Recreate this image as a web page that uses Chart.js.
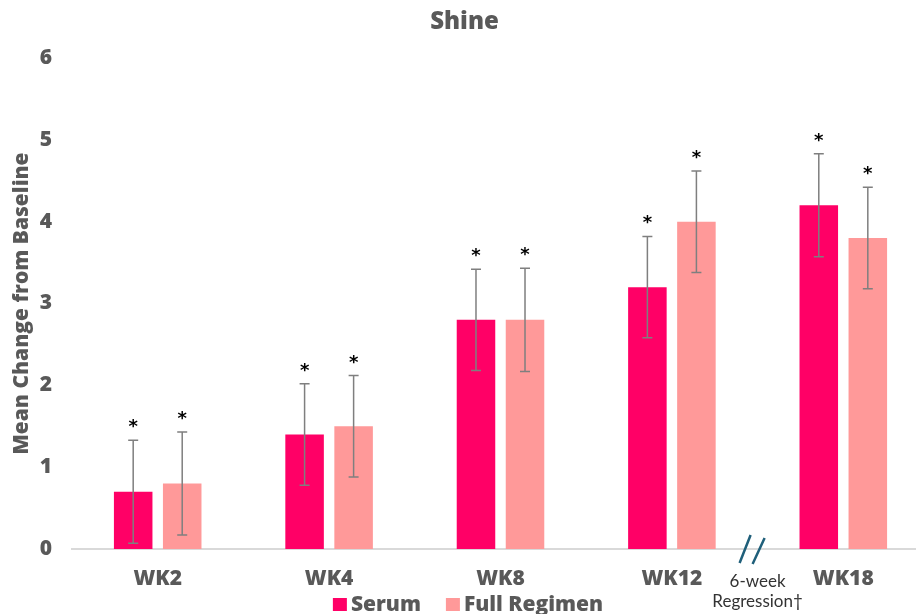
<!DOCTYPE html>
<html>
<head>
<meta charset="utf-8">
<script src="https://cdn.jsdelivr.net/npm/chart.js@4/dist/chart.umd.min.js"></script>
<style>
  html, body { margin: 0; padding: 0; background: #ffffff; overflow: hidden; width: 916px; height: 614px; }
  #c { display: block; }
</style>
</head>
<body>
<canvas id="c" width="930" height="614"></canvas>
<script>
// ---- data ----
const categories = ['WK2', 'WK4', 'WK8', 'WK12', 'WK18'];
const serumValues = [0.7, 1.4, 2.8, 3.2, 4.2];
const fullRegimenValues = [0.8, 1.5, 2.8, 4.0, 3.8];
const serumErrors = [0.63, 0.62, 0.62, 0.62, 0.63];
const fullRegimenErrors = [0.63, 0.62, 0.63, 0.62, 0.62];
const significance = ['*', '*', '*', '*', '*'];
const yTicks = [0, 1, 2, 3, 4, 5, 6];
const chartTitle = 'Shine';
const yAxisTitle = 'Mean Change from Baseline';
const gapNote = ['6-week', 'Regression\u2020'];

const TEXT = '#595959';
const FONT = "'Open Sans', 'Lato', sans-serif";
const BOLD = '800';

const errorBarPlugin = {
  id: 'errorBars',
  afterDatasetsDraw(chart) {
    const ctx = chart.ctx;
    const y = chart.scales.y;
    const errs = [serumErrors, fullRegimenErrors];
    chart.data.datasets.forEach((ds, i) => {
      const meta = chart.getDatasetMeta(i);
      meta.data.forEach((bar, j) => {
        const v = ds.data[j];
        const e = errs[i][j];
        const yt = y.getPixelForValue(v + e);
        const yb = y.getPixelForValue(v - e);
        const x = bar.x;
        ctx.save();
        ctx.strokeStyle = '#7f7f7f';
        ctx.lineWidth = 1.5;
        ctx.beginPath();
        ctx.moveTo(x, yt); ctx.lineTo(x, yb);
        ctx.moveTo(x - 5, yt); ctx.lineTo(x + 5, yt);
        ctx.moveTo(x - 5, yb); ctx.lineTo(x + 5, yb);
        ctx.stroke();
        ctx.fillStyle = '#000000';
        ctx.font = "bold 18px 'DejaVu Sans', sans-serif";
        ctx.textAlign = 'center';
        ctx.textBaseline = 'alphabetic';
        ctx.fillText(significance[j], x, yt - 8);
        ctx.restore();
      });
    });
  },
  afterDraw(chart) {
    const ctx = chart.ctx;
    const xs = chart.scales.x;
    const bottom = chart.chartArea.bottom;
    const mid = (xs.getPixelForTick(3) + xs.getPixelForTick(4)) / 2;
    ctx.save();
    // break mark
    ctx.strokeStyle = '#1f5f7a';
    ctx.lineWidth = 2.5;
    ctx.beginPath();
    const sx = mid - 6;
    ctx.moveTo(sx - 12, bottom + 14); ctx.lineTo(sx - 1, bottom - 14);
    ctx.moveTo(sx + 1, bottom + 15); ctx.lineTo(sx + 13, bottom - 11);
    ctx.stroke();
    // gap note
    ctx.fillStyle = '#333333';
    ctx.font = "17px 'Lato', sans-serif";
    ctx.textAlign = 'center';
    ctx.textBaseline = 'middle';
    ctx.fillText(gapNote[0], mid, bottom + 33);
    ctx.fillText(gapNote[1], mid, bottom + 53);
    // legend
    ctx.font = BOLD + " 21px " + FONT;
    const box = 14, boxGap = 4, itemGap = 25;
    const items = chart.data.datasets.map(d => ({ label: d.label, color: d.backgroundColor, w: ctx.measureText(d.label).width }));
    let total = 0;
    items.forEach((it, k) => { total += box + boxGap + it.w + (k ? itemGap : 0); });
    let lx = chart.width / 2 - total / 2 + 3;
    const ly = 604.5;
    ctx.textAlign = 'left';
    ctx.textBaseline = 'middle';
    items.forEach(it => {
      ctx.fillStyle = it.color;
      ctx.fillRect(lx, ly - 6.5, box, box - 1);
      ctx.fillStyle = TEXT;
      ctx.fillText(it.label, lx + box + boxGap, ly + 1);
      lx += box + boxGap + it.w + itemGap;
    });
    ctx.restore();
  }
};

new Chart(document.getElementById('c'), {
  type: 'bar',
  data: {
    labels: categories,
    datasets: [
      { label: 'Serum', data: serumValues, backgroundColor: '#ff0066',
        categoryPercentage: 0.572, barPercentage: 0.786 },
      { label: 'Full Regimen', data: fullRegimenValues, backgroundColor: '#ff9999',
        categoryPercentage: 0.572, barPercentage: 0.786 }
    ]
  },
  options: {
    responsive: false,
    animation: false,
    devicePixelRatio: 1,
    layout: { padding: { top: 8, right: 1, left: 0, bottom: 22.8 } },
    plugins: {
      title: {
        display: true, text: chartTitle, color: TEXT,
        font: { family: FONT, size: 24, weight: BOLD },
        padding: { top: 0, bottom: 21.2 }
      },
      legend: { display: false },
      tooltip: { enabled: false }
    },
    scales: {
      x: {
        grid: { display: false, drawTicks: false },
        border: { display: true, color: '#d9d9d9', width: 2 },
        ticks: { color: TEXT, padding: 17, font: { family: FONT, size: 21, weight: BOLD } },
        afterFit(scale) { scale.height = 42.2; }
      },
      y: {
        min: 0, max: 6,
        grid: { display: false, drawTicks: false },
        border: { display: false },
        afterBuildTicks(scale) { scale.ticks = yTicks.map(v => ({ value: v })); },
        ticks: { color: TEXT, padding: 20, font: { family: FONT, size: 21, weight: BOLD } },
        title: {
          display: true, text: yAxisTitle, color: TEXT,
          font: { family: FONT, size: 21, weight: BOLD },
          padding: { top: 9.5, bottom: 0 }
        },
        afterFit(scale) { scale.width = 72; }
      }
    }
  },
  plugins: [errorBarPlugin]
});
</script>
</body>
</html>
